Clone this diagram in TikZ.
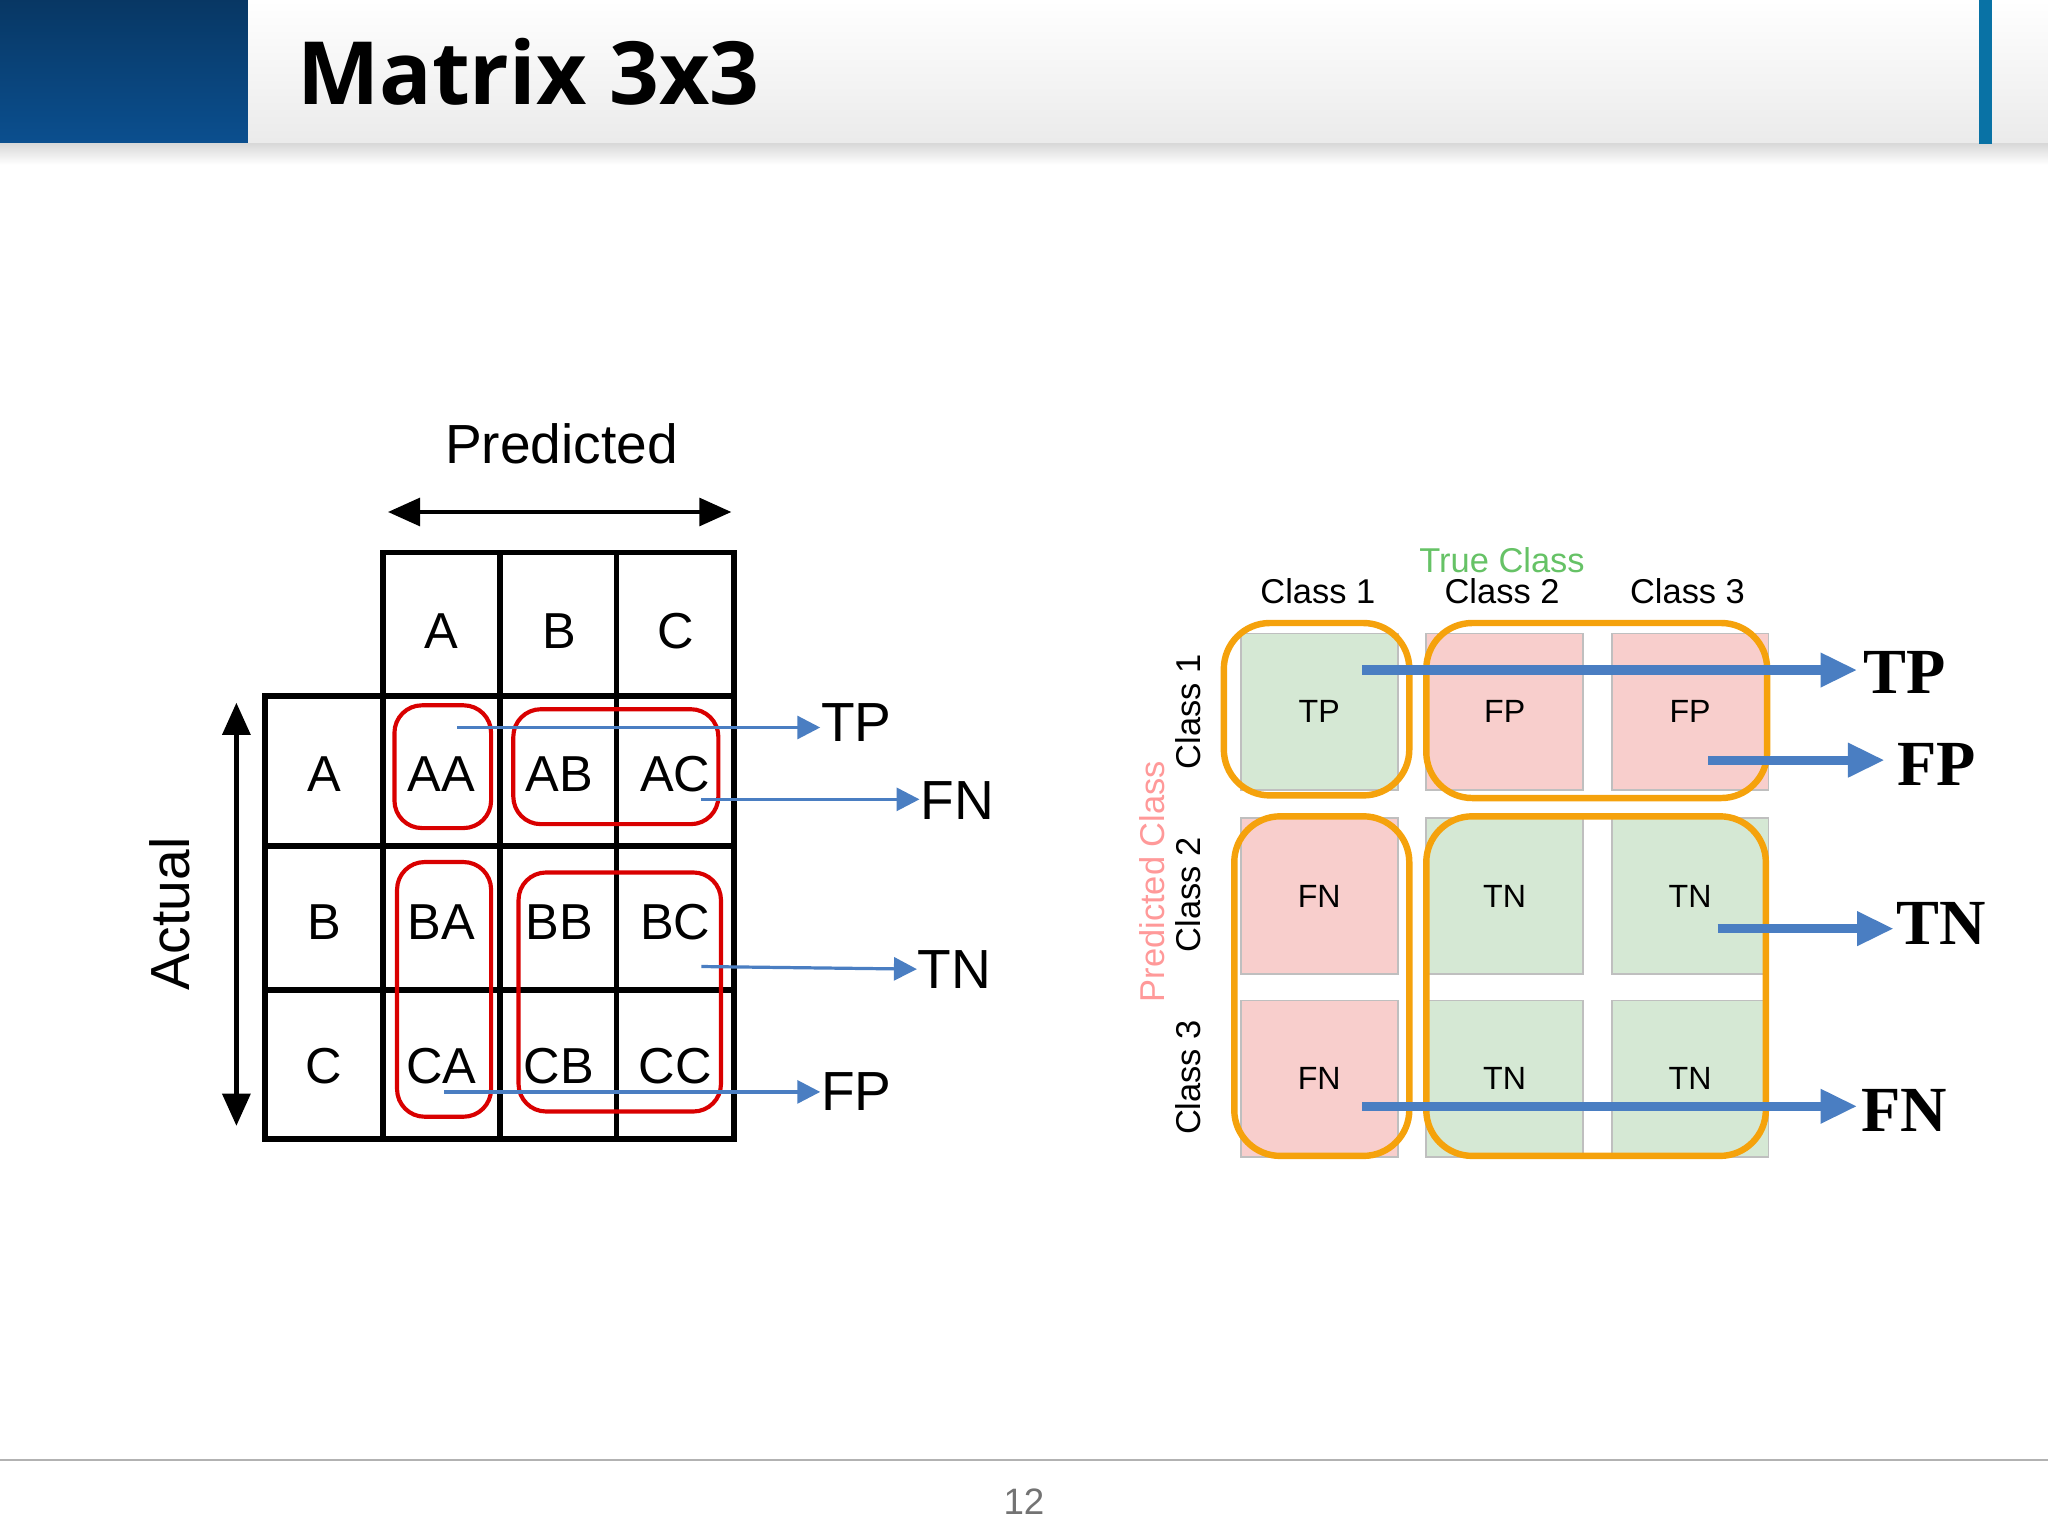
\documentclass[tikz,border=0pt]{standalone}
\usepackage{fontspec}
\setmainfont{Liberation Serif}
\setsansfont{Liberation Sans}
\newfontfamily\titlefont{Open Sans}
\usetikzlibrary{arrows.meta, positioning}
\definecolor{hdblue}{HTML}{0B4F8F}
\definecolor{arrblue}{HTML}{4A7EC2}
\definecolor{cellgreen}{HTML}{D5E8D4}
\definecolor{cellred}{HTML}{F8CECC}
\definecolor{boxorange}{HTML}{F5A20C}
\tikzset{
  grid/.style={line width=1.3pt},
  lab/.style={font=\sffamily\fontsize{11}{11}\selectfont},
  redbox/.style={draw=red!85!black, line width=0.9pt, rounded corners=6pt},
  thinarrow/.style={draw=arrblue, line width=0.7pt, -{Triangle[length=5pt,width=5pt]}},
  arrlab/.style={font=\sffamily\fontsize{12}{12}\selectfont, anchor=west, inner sep=0pt},
  cell/.style={draw=black!25, minimum width=1.2cm, minimum height=1.2cm, font=\sffamily\fontsize{7}{7}\selectfont},
  orangebox/.style={draw=boxorange, line width=1.4pt, rounded corners=10pt},
  thickarrow/.style={draw=arrblue, line width=2pt, -{Triangle[length=8pt,width=7pt]}},
  biglab/.style={font=\bfseries\fontsize{14}{14}\selectfont, anchor=center},
  hdr/.style={font=\sffamily\fontsize{7.5}{7.5}\selectfont}
}
\begin{document}
\begin{tikzpicture}[x=0.01cm, y=-0.01cm]
\useasboundingbox (0,0) rectangle (1568,1176);
% header
\shade[top color=hdblue!70!black, bottom color=hdblue] (0,0) rectangle (190,110);
\shade[top color=white, bottom color=black!8] (190,0) rectangle (1568,110);
\shade[top color=black!15, bottom color=white] (0,110) rectangle (1568,126);
\fill[hdblue!80!cyan] (1515,0) rectangle (1525,110);
\node[anchor=west, font=\titlefont\bfseries\fontsize{19}{19}\selectfont] (title) at (215,55) {Matrix 3x3};
% footer
\draw[black!30, line width=0.5pt] (0,1118) -- (1568,1118);
\node[font=\sffamily\fontsize{8}{8}\selectfont, text=black!55] (page) at (784,1150) {12};

% left matrix
\draw[grid] (293,423) rectangle (562,872);
\draw[grid] (203,533) rectangle (562,872);
\foreach \x in {383,472} \draw[grid] (\x,423) -- (\x,872);
\foreach \y in {648,758} \draw[grid] (203,\y) -- (562,\y);
\draw[grid] (293,533) -- (293,872);
\node[lab] (pc1) at (338,483) {A};
\node[lab] (pc2) at (428,483) {B};
\node[lab] (pc3) at (517,483) {C};
\node[lab] (ar1) at (248,593) {A};
\node[lab] (ar2) at (248,706) {B};
\node[lab] (ar3) at (248,816) {C};
\foreach \r/\a/\y in {1/A/593,2/B/706,3/C/816}
  \foreach \c/\p/\x in {1/A/338,2/B/428,3/C/517}
    \node[lab] (m\r\c) at (\x,\y) {\a\p};
\node[lab, font=\sffamily\fontsize{12}{12}\selectfont] (pred) at (430,340) {Predicted};
\node[lab, font=\sffamily\fontsize{12}{12}\selectfont, rotate=90] (act) at (130,700) {Actual};
\coordinate (pl) at (297,392); \coordinate (pr) at (560,392);
\draw[line width=1pt, {Triangle[length=7pt,width=6pt]}-{Triangle[length=7pt,width=6pt]}] (pl) -- (pr);
\coordinate (at) at (181,538); \coordinate (ab) at (181,862);
\draw[line width=1pt, {Triangle[length=7pt,width=6pt]}-{Triangle[length=7pt,width=6pt]}] (at) -- (ab);
\draw[redbox] (302,540) rectangle (376,634);
\draw[redbox] (393,543) rectangle (550,631);
\draw[redbox] (304,660) rectangle (376,855);
\draw[redbox] (397,668) rectangle (552,851);
\node[arrlab] (ltp) at (628,553) {TP};
\node[arrlab] (lfn) at (704,613) {FN};
\node[arrlab] (ltn) at (702,742) {TN};
\node[arrlab] (lfp) at (628,836) {FP};
\coordinate (stp) at (350,557); \coordinate (sfn) at (537,612);
\coordinate (stn) at (537,740); \coordinate (sfp) at (340,836);
\draw[thinarrow] (stp) -- (ltp.west |- stp);
\draw[thinarrow] (sfn) -- (lfn.west |- sfn);
\draw[thinarrow] (stn) -- (ltn.west);
\draw[thinarrow] (sfp) -- (lfp.west |- sfp);

% right matrix
\node[cell, fill=cellgreen] (c11) at (1010,545) {TP};
\node[cell, fill=cellred] (c12) at (1152,545) {FP};
\node[cell, fill=cellred] (c13) at (1294,545) {FP};
\node[cell, fill=cellred] (c21) at (1010,686) {FN};
\node[cell, fill=cellgreen] (c22) at (1152,686) {TN};
\node[cell, fill=cellgreen] (c23) at (1294,686) {TN};
\node[cell, fill=cellred] (c31) at (1010,826) {FN};
\node[cell, fill=cellgreen] (c32) at (1152,826) {TN};
\node[cell, fill=cellgreen] (c33) at (1294,826) {TN};
\node[hdr] (h1) at (1009,453) {Class 1};
\node[hdr] (h2) at (1150,453) {Class 2};
\node[hdr] (h3) at (1292,453) {Class 3};
\node[hdr, text=green!60!black!60] (tc) at (1150,429) {True Class};
\node[hdr, rotate=90] (r1) at (910,545) {Class 1};
\node[hdr, rotate=90] (r2) at (910,685) {Class 2};
\node[hdr, rotate=90] (r3) at (910,825) {Class 3};
\node[hdr, rotate=90, text=red!40] (pcl) at (882,675) {Predicted Class};
\draw[orangebox] (937,477) rectangle (1079,609);
\draw[orangebox] (1092,477) rectangle (1353,611);
\draw[orangebox] (945,625) rectangle (1079,885);
\draw[orangebox] (1092,625) rectangle (1352,885);
\node[biglab] (rtp) at (1458,515) {TP};
\node[biglab] (rfp) at (1483,585) {FP};
\node[biglab] (rtn) at (1486,707) {TN};
\node[biglab] (rfn) at (1458,850) {FN};
\coordinate (qtp) at (1043,513); \coordinate (qfp) at (1308,582);
\coordinate (qtn) at (1315,711); \coordinate (qfn) at (1043,847);
\draw[thickarrow] (qtp) -- (1422,513);
\draw[thickarrow] (qfp) -- (1443,582);
\draw[thickarrow] (qtn) -- (1450,711);
\draw[thickarrow] (qfn) -- (1422,847);
\end{tikzpicture}
\end{document}
